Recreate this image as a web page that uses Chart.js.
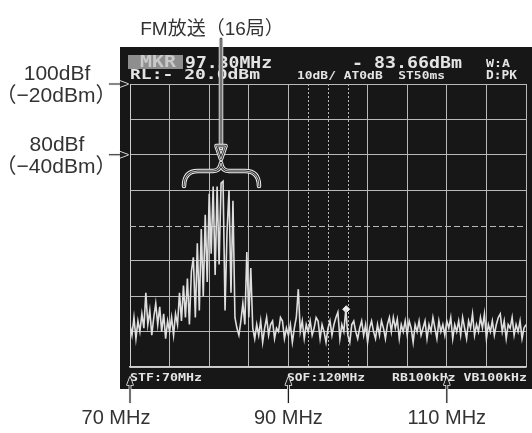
<!DOCTYPE html>
<html>
<head>
<meta charset="utf-8">
<script src="https://cdn.jsdelivr.net/npm/chart.js@4/dist/chart.umd.min.js"></script>
<style>
  html, body { margin: 0; padding: 0; background: #fff; }
  canvas { display: block; }
</style>
</head>
<body>
<canvas id="spec" width="532" height="433"></canvas>
<script>
// sweep: 70 MHz .. 120 MHz, one reading every 0.25 MHz
const startMHz = 70, stepMHz = 0.25;
const levelDbm = [
  -88, -91, -86, -92, -87, -90, -85, -89, -79, -88,   // 70.00 - 72.25
  -84, -91, -86, -82, -88, -83, -90, -85, -92, -87,   // 72.50 - 74.75
  -90, -86, -91, -85, -88, -79, -87, -77, -86, -75,   // 75.00 - 77.25
  -88, -73, -69, -86, -65, -84, -61, -80, -57, -76,   // 77.50 - 79.75
  -51, -68, -49, -74, -49, -71, -48, -47.5, -84, -62, // 80.00 - 82.25
  -50, -79, -53, -86, -89, -91, -87, -82, -88, -67.5, // 82.50 - 84.75
  -86, -72, -89, -92, -88, -91, -87, -93, -89, -86,   // 85.00 - 87.25
  -91, -88, -87, -92, -89, -90, -86, -87, -92, -89,   // 87.50 - 89.75
  -91, -88, -93, -89, -86, -78, -90, -87, -92, -88,   // 90.00 - 92.25
  -90, -87, -91, -89, -86, -87, -92, -88, -90, -93,   // 92.50 - 94.75
  -89, -87, -91, -88, -86, -84.5, -92, -88, -90, -83.7, // 95.00 - 97.25
  -91, -93, -88, -87, -90, -92, -89, -87, -91, -88,   // 97.50 - 99.75
  -93, -89, -87, -90, -92, -88, -91, -87, -89, -92,   // 100.00 - 102.25
  -88, -86, -90, -86, -89, -86.5, -92, -88, -90, -87, // 102.50 - 104.75
  -91, -87, -89, -93, -88, -90, -87, -91, -89, -87,   // 105.00 - 107.25
  -92, -88, -90, -86, -89, -92, -87, -90, -88, -91,   // 107.50 - 109.75
  -87, -89, -86, -92, -88, -90, -87, -91, -86, -89,   // 110.00 - 112.25
  -92, -87, -89, -85, -91, -88, -90, -86, -89, -85,   // 112.50 - 114.75
  -92, -88, -90, -87, -91, -88, -86, -85, -90, -87,   // 115.00 - 117.25
  -92, -88, -89, -86, -91, -88, -90, -87, -92, -89,   // 117.50 - 119.75
  -88                                                 // 120.00
];
const freqMHz = levelDbm.map((_, i) => startMHz + i * stepMHz);

// marker readout
const markerMHz = 97.30, markerDbm = -83.66;

// annotations outside the screen
const freqArrows = [70, 90, 110];
const freqArrowLabels = ['70 MHz', '90 MHz', '110 MHz'];
const refLevels = [-20, -40];
const refLabels = [['100dBf', '（−20dBm）'], ['80dBf', '（−40dBm）']];

const GRID = '#b9b9b9';
const SCREEN_TXT = '#e4e4e4';
const MONO = '"DejaVu Sans Mono", monospace';
const SANS = '"Liberation Sans", "Noto Sans CJK JP", sans-serif';

// text squeezed/stretched to a given width
function fitText(ctx, text, x, y, w, font, color) {
  ctx.save();
  ctx.font = font;
  ctx.fillStyle = color;
  ctx.textBaseline = 'alphabetic';
  const m = ctx.measureText(text).width;
  ctx.translate(x, y);
  ctx.scale(w / m, 1);
  ctx.fillText(text, 0, 0);
  ctx.restore();
}

// black arrow with a thin white rim so the tip shows on the screen too
function solidArrow(ctx, x0, y0, x1, y1) {
  const a = Math.atan2(y1 - y0, x1 - x0);
  ctx.save();
  ctx.translate(x0, y0);
  ctx.rotate(a);
  const len = Math.hypot(x1 - x0, y1 - y0);
  const shape = () => {
    ctx.beginPath();
    ctx.moveTo(0, -0.6);
    ctx.lineTo(len - 8, -0.6);
    ctx.lineTo(len - 8, -3);
    ctx.lineTo(len, 0);
    ctx.lineTo(len - 8, 3);
    ctx.lineTo(len - 8, 0.6);
    ctx.lineTo(0, 0.6);
    ctx.closePath();
  };
  ctx.lineJoin = 'round';
  ctx.strokeStyle = '#f0f0f0';
  ctx.lineWidth = 1.6;
  shape();
  ctx.stroke();
  ctx.fillStyle = '#1e1e1e';
  shape();
  ctx.fill();
  ctx.restore();
}

// outlined (double) stroke used for the FM arrow and brace
function outlined(ctx, pathFn) {
  ctx.save();
  ctx.lineJoin = 'round';
  ctx.lineCap = 'round';
  [[4.5, '#f4f4f4'], [2.6, '#2a2a2a'], [0.9, '#cfcfcf']].forEach(([w, c]) => {
    ctx.lineWidth = w;
    ctx.strokeStyle = c;
    ctx.beginPath();
    pathFn();
    ctx.stroke();
  });
  ctx.restore();
}

const screenPlugin = {
  id: 'screen',
  beforeDraw(chart) {
    const ctx = chart.ctx;
    ctx.save();
    ctx.fillStyle = '#fff';
    ctx.fillRect(0, 0, chart.width, chart.height);
    ctx.fillStyle = '#171717';
    ctx.fillRect(120, 47, 412, 342);
    ctx.restore();
  },
  beforeDatasetsDraw(chart) {
    const ctx = chart.ctx, x = chart.scales.x, y = chart.scales.y;
    const a = chart.chartArea;
    ctx.save();
    ctx.strokeStyle = GRID;
    ctx.lineWidth = 1;
    ctx.setLineDash([2, 2]);
    [92.5, 95, 97.5].forEach(f => {
      const px = Math.round(x.getPixelForValue(f)) + 0.5;
      ctx.beginPath(); ctx.moveTo(px, a.top); ctx.lineTo(px, a.bottom); ctx.stroke();
    });
    ctx.setLineDash([6, 3]);
    const py = Math.round(y.getPixelForValue(-60)) + 0.5;
    ctx.beginPath(); ctx.moveTo(a.left, py); ctx.lineTo(a.right, py); ctx.stroke();
    ctx.restore();
  },
  afterDraw(chart) {
    const ctx = chart.ctx, x = chart.scales.x, y = chart.scales.y;

    // screen readouts
    ctx.save();
    ctx.fillStyle = '#8e8e8e';
    ctx.fillRect(128, 55, 55, 14);
    ctx.restore();
    fitText(ctx, 'MKR', 140, 67, 36, 'bold 15px ' + MONO, '#c9c9c9');
    fitText(ctx, '97.30MHz', 185, 68, 87, 'bold 16px ' + MONO, SCREEN_TXT);
    fitText(ctx, '- 83.66dBm', 352, 68, 110, 'bold 16px ' + MONO, SCREEN_TXT);
    fitText(ctx, 'W:A', 486, 67, 24, 'bold 11px ' + MONO, SCREEN_TXT);
    fitText(ctx, 'RL:- 20.0dBm', 130, 79, 130, 'bold 14px ' + MONO, SCREEN_TXT);
    fitText(ctx, '10dB/ AT0dB  ST50ms', 297, 79, 148, 'bold 11px ' + MONO, SCREEN_TXT);
    fitText(ctx, 'D:PK', 486, 79, 31, 'bold 12px ' + MONO, SCREEN_TXT);
    fitText(ctx, 'STF:70MHz', 130, 381, 72, 'bold 11px ' + MONO, SCREEN_TXT);
    fitText(ctx, 'SOF:120MHz', 287, 381, 78, 'bold 11px ' + MONO, SCREEN_TXT);
    fitText(ctx, 'RB100kHz VB100kHz', 392, 381, 135, 'bold 11px ' + MONO, SCREEN_TXT);

    // FM label, arrow and brace
    ctx.save();
    ctx.font = '19px ' + SANS;
    ctx.fillStyle = '#333';
    ctx.textAlign = 'center';
    ctx.fillText('FM放送（16局）', 212, 35);
    ctx.restore();
    const ax = 221;
    outlined(ctx, () => { ctx.moveTo(ax, 39); ctx.lineTo(ax, 148); });
    outlined(ctx, () => {
      ctx.moveTo(ax - 4.5, 146); ctx.lineTo(ax + 4.5, 146); ctx.lineTo(ax, 159); ctx.closePath();
    });
    outlined(ctx, () => {
      ctx.moveTo(184, 186);
      ctx.quadraticCurveTo(184, 171, 198, 171);
      ctx.lineTo(213, 171);
      ctx.quadraticCurveTo(220, 171, ax, 163);
      ctx.quadraticCurveTo(222, 171, 229, 171);
      ctx.lineTo(245, 171);
      ctx.quadraticCurveTo(259, 171, 259, 186);
    });

    // reference level labels on the left
    refLevels.forEach((lv, i) => {
      const py = y.getPixelForValue(lv);
      solidArrow(ctx, 109, py, 128, py);
      ctx.save();
      ctx.font = '21px ' + SANS;
      ctx.fillStyle = '#333';
      ctx.textAlign = 'center';
      ctx.fillText(refLabels[i][0], 57, py - 4);
      ctx.fillText(refLabels[i][1], 56, py + 18);
      ctx.restore();
    });

    // frequency labels below
    freqArrows.forEach((f, i) => {
      const px = x.getPixelForValue(f);
      solidArrow(ctx, px, 403, px, 377);
      ctx.save();
      ctx.font = '20px ' + SANS;
      ctx.fillStyle = '#333';
      ctx.textAlign = 'center';
      ctx.fillText(freqArrowLabels[i], i === 0 ? px - 14 : px, 424);
      ctx.restore();
    });
  }
};

new Chart(document.getElementById('spec'), {
  type: 'line',
  data: {
    labels: freqMHz,
    datasets: [{
      data: levelDbm,
      borderColor: '#dedede',
      borderWidth: 1.6,
      pointRadius: 0,
      tension: 0
    }, {
      type: 'scatter',
      data: [{ x: markerMHz, y: markerDbm }],
      pointStyle: 'rectRot',
      pointRadius: 3.5,
      backgroundColor: '#f2f2f2',
      borderColor: '#f2f2f2'
    }]
  },
  options: {
    responsive: false,
    animation: false,
    layout: { padding: { left: 130, right: 6, top: 84, bottom: 66 } },
    plugins: { legend: { display: false }, tooltip: { enabled: false } },
    scales: {
      x: {
        type: 'linear', min: 70, max: 120,
        ticks: { display: false, stepSize: 5 },
        grid: {
          drawTicks: false,
          color: c => (c.tick && c.tick.value === 95) ? 'rgba(0,0,0,0)' : GRID
        },
        border: { color: '#d0d0d0', width: 1.5 }
      },
      y: {
        min: -100, max: -20,
        ticks: { display: false, stepSize: 10 },
        grid: {
          drawTicks: false,
          color: c => (c.tick && c.tick.value === -60) ? 'rgba(0,0,0,0)' : GRID
        },
        border: { color: '#d0d0d0', width: 1 }
      }
    }
  },
  plugins: [screenPlugin]
});
</script>
</body>
</html>
